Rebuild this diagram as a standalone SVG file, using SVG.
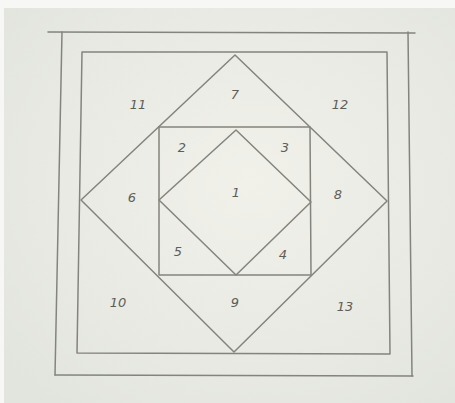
<svg xmlns="http://www.w3.org/2000/svg" width="455" height="403" viewBox="0 0 455 403">
<defs>
<radialGradient id="paper" cx="0.55" cy="0.45" r="0.7">
<stop offset="0" stop-color="#f1f1ea"/>
<stop offset="1" stop-color="#e2e5de"/>
</radialGradient>
</defs>
<style>
.ln{stroke:#84847e;stroke-width:1.5;fill:none;stroke-linecap:round;stroke-linejoin:round}
.lb{font-family:"DejaVu Sans",sans-serif;font-style:italic;font-size:13px;fill:#5e5e58;text-anchor:middle}
</style>
<rect x="0" y="0" width="455" height="403" fill="url(#paper)"/>
<rect x="0" y="0" width="455" height="8" fill="#f7f8f5"/>
<rect x="0" y="0" width="4" height="403" fill="#f7f8f5"/>
<g id="lines">
<g id="outer-frame" class="ln">
<line x1="48" y1="32" x2="415" y2="33"/>
<line x1="62" y1="32" x2="55" y2="375"/>
<line x1="55" y1="375" x2="413" y2="376"/>
<line x1="408" y1="32" x2="412" y2="376"/>
</g>
<polygon id="inner-square" class="ln" points="82,52 387,52 390,354 77,353"/>
<polygon id="big-diamond" class="ln" points="235,55 387,201 234,352 81,200"/>
<polygon id="middle-square" class="ln" points="159,127 310,127 311,275 159,275"/>
<polygon id="inner-diamond" class="ln" points="236,130 311,202 236,275 159,200"/>
</g>
<g id="labels" class="lb">
<text x="236" y="197">1</text>
<text x="182" y="152">2</text>
<text x="285" y="152">3</text>
<text x="283" y="259">4</text>
<text x="178" y="256">5</text>
<text x="132" y="202">6</text>
<text x="235" y="99">7</text>
<text x="338" y="199">8</text>
<text x="235" y="307">9</text>
<text x="118" y="307">10</text>
<text x="138" y="109">11</text>
<text x="340" y="109">12</text>
<text x="345" y="311">13</text>
</g>
</svg>
